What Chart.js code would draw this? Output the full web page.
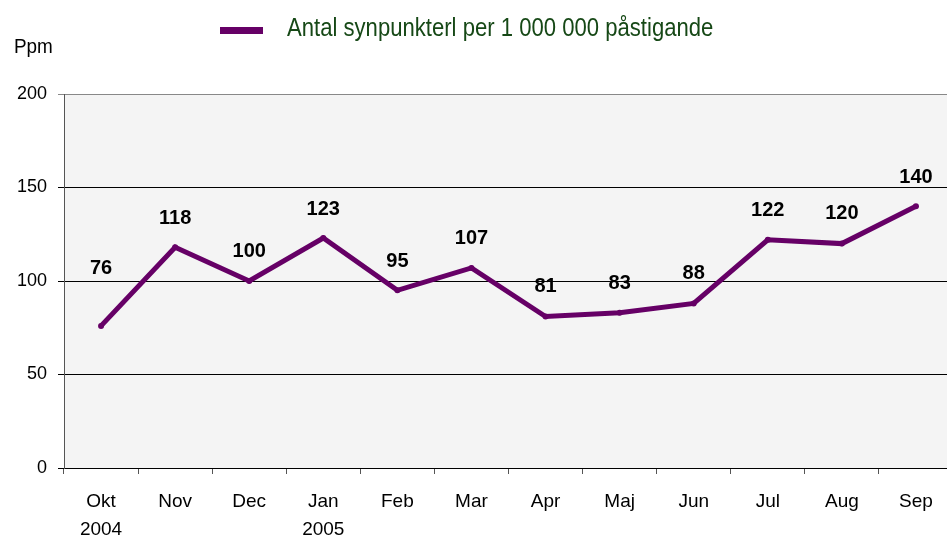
<!DOCTYPE html>
<html>
<head>
<meta charset="utf-8">
<script src="https://cdn.jsdelivr.net/npm/chart.js@4"></script>
<style>
  html, body { margin: 0; padding: 0; background: #fff; overflow: hidden; }
</style>
</head>
<body>
<canvas id="chart" width="957" height="541"></canvas>
<script>
/* ── data ── */
const months = [['Okt', '2004'], 'Nov', 'Dec', ['Jan', '2005'], 'Feb', 'Mar', 'Apr', 'Maj', 'Jun', 'Jul', 'Aug', 'Sep'];
const ppm = [76, 118, 100, 123, 95, 107, 81, 83, 88, 122, 120, 140];
const yTicks = [0, 50, 100, 150, 200];
const seriesName = 'Antal synpunkterl per 1 000 000 påstigande';
const yUnit = 'Ppm';

const LINE = '#660066';
const FONT = '"Liberation Sans", Arial, sans-serif';
const labelLift = [57, 29, 30, 29, 29, 29, 30, 29, 30, 29, 30, 29];

/* narrow-ish text: regular face squeezed horizontally */
function squeezedText(ctx, text, x, y, size, sx, color) {
    ctx.save();
    ctx.font = size + 'px ' + FONT;
    ctx.fillStyle = color;
    ctx.textAlign = 'left';
    ctx.textBaseline = 'middle';
    ctx.translate(x, y);
    ctx.scale(sx, 1);
    ctx.fillText(text, 0, 0);
    ctx.restore();
}

/* ── plot background, legend, unit and value labels ── */
const decorations = {
    id: 'decorations',
    beforeDraw(chart) {
        const { ctx, chartArea: a } = chart;
        ctx.save();
        ctx.fillStyle = '#f4f4f4';
        ctx.fillRect(a.left, a.top, a.right - a.left, a.bottom - a.top);
        ctx.restore();
    },
    afterDatasetsDraw(chart) {
        const ctx = chart.ctx;
        const pts = chart.getDatasetMeta(0).data;
        ctx.save();
        ctx.font = 'bold 20px ' + FONT;
        ctx.fillStyle = '#000';
        ctx.textAlign = 'center';
        ctx.textBaseline = 'middle';
        pts.forEach((p, i) => ctx.fillText(String(ppm[i]), p.x, p.y - labelLift[i]));
        ctx.restore();
    },
    afterDraw(chart) {
        const ctx = chart.ctx;
        // legend
        ctx.save();
        ctx.fillStyle = LINE;
        ctx.fillRect(220, 27, 43, 7);
        ctx.restore();
        squeezedText(ctx, seriesName, 287, 29, 26, 0.85, '#164816');
        // unit
        squeezedText(ctx, yUnit, 14, 47, 21, 0.9, '#000');
    }
};

new Chart(document.getElementById('chart'), {
    type: 'line',
    data: {
        labels: months,
        datasets: [{
            label: seriesName,
            data: ppm,
            borderColor: LINE,
            backgroundColor: LINE,
            borderWidth: 5,
            pointRadius: 3,
            pointBackgroundColor: LINE,
            pointBorderWidth: 0,
            tension: 0,
            clip: false
        }]
    },
    options: {
        responsive: false,
        animation: false,
        layout: { padding: { top: 94, right: 0, left: 0, bottom: 0 } },
        plugins: { legend: { display: false }, tooltip: { enabled: false } },
        scales: {
            x: {
                offset: true,
                grid: { offset: true, drawOnChartArea: false, drawTicks: true, tickLength: 6, color: '#555' },
                border: { color: '#000', width: 1 },
                ticks: {
                    color: '#000', padding: 14, autoSkip: false, maxRotation: 0,
                    font: { family: FONT, size: 19, lineHeight: '28px' }
                },
                afterFit: s => { s.height = 73; }
            },
            y: {
                min: 0, max: 200,
                afterBuildTicks: s => { s.ticks = yTicks.map(v => ({ value: v })); },
                grid: {
                    color: c => (c.tick && c.tick.value === 200) ? '#888' : '#000',
                    tickLength: 6, lineWidth: 1
                },
                border: { color: '#555', width: 1 },
                ticks: { color: '#000', padding: 11, font: { family: FONT, size: 18 } },
                afterFit: s => { s.width = 64; }
            }
        }
    },
    plugins: [decorations]
});
</script>
</body>
</html>
